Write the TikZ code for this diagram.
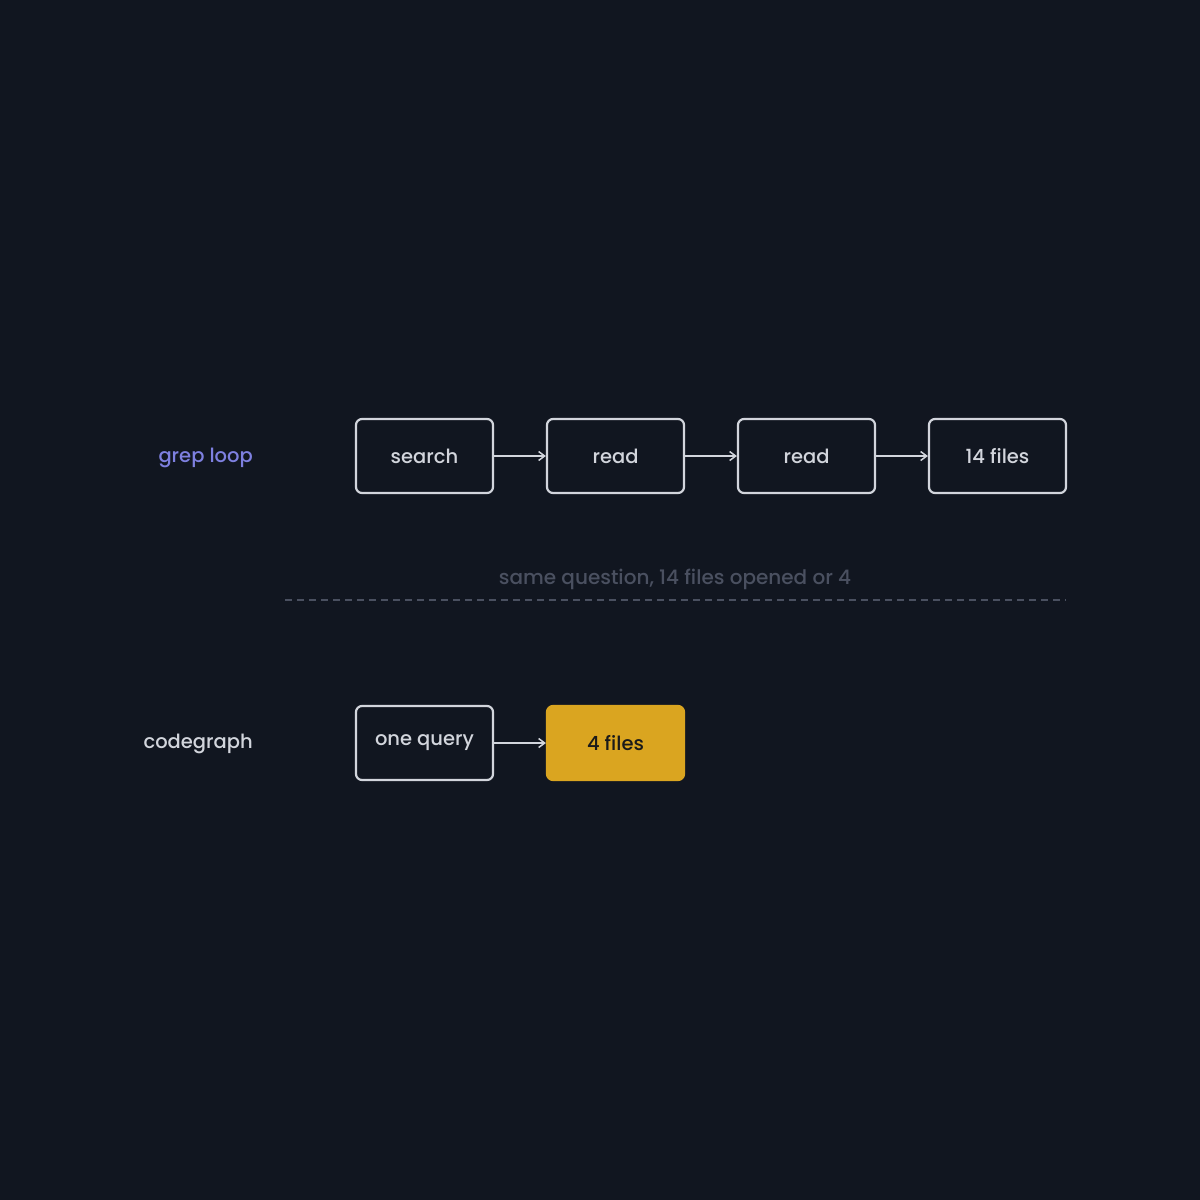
\documentclass[tikz,border=0pt]{standalone}
\usepackage{fontspec}
\setmainfont{Poppins}[UprightFont=* Medium]
\usetikzlibrary{arrows.meta}
\definecolor{fond}{HTML}{111620}
\definecolor{trait}{HTML}{D2D5DC}
\definecolor{violet}{HTML}{7E80E0}
\definecolor{gris}{HTML}{4A5060}
\definecolor{ocre}{HTML}{DAA520}
\definecolor{sombre}{HTML}{1A1A1A}
\begin{document}
\begin{tikzpicture}[x=1pt,y=-1pt]
\tikzset{boite/.style={draw=trait, line width=2.2pt, rounded corners=6pt, minimum width=137pt, minimum height=74pt, text=trait, font=\fontsize{19.5}{22}\selectfont}}
\tikzset{fleche/.style={draw=trait, line width=1.5pt, -{Straight Barb[length=6pt,width=9pt]}}}
\tikzset{etiquette/.style={anchor=east, inner sep=0pt, font=\fontsize{19.5}{22}\selectfont}}
\fill[fond] (0,0) rectangle (1200,1200);
\node[etiquette, text=violet] (L1) at (253,457.5) {grep loop};
\node[boite] (B1) at (424.5,456) {search};
\node[boite] (B2) at (615.5,456) {read};
\node[boite] (B3) at (806.5,456) {read};
\node[boite] (B4) at (997.5,456) {14 files};
\draw[fleche] (B1) -- (B2);
\draw[fleche] (B2) -- (B3);
\draw[fleche] (B3) -- (B4);
\node[text=gris, font=\fontsize{20}{22}\selectfont] (Q) at (675,579) {same question, 14 files opened or 4};
\coordinate (D1) at (285,600);
\coordinate (D2) at (1066,600);
\draw[gris, line width=1.5pt, dash pattern=on 7pt off 5pt] (D1) -- (D2);
\node[etiquette, text=trait] (L2) at (253,743.5) {codegraph};
\node[boite] (C1) at (424.5,743) {one query};
\node[boite, fill=ocre, draw=ocre, text=sombre] (C2) at (615.5,743) {4 files};
\draw[fleche] (C1) -- (C2);
\end{tikzpicture}
\end{document}
